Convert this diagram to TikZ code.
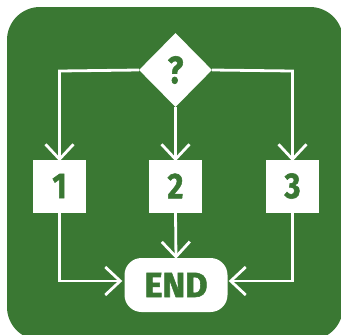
\documentclass[tikz,border=0pt]{standalone}
\usepackage{fontspec}
\setmainfont{Fira Sans}
\newfontfamily\heavyfont{Fira Sans}[BoldFeatures={FakeBold=1.6}]
\usetikzlibrary{arrows.meta,shapes.geometric}
\definecolor{bggreen}{HTML}{3A7833}
\tikzset{
  conn/.style={draw=white, line width=2.8pt, line join=miter,
    -{Straight Barb[length=15pt,width=28pt,line width=2.8pt]}},
  numbox/.style={fill=white, minimum width=53pt, minimum height=53pt, inner sep=0pt,
    text=bggreen, font=\heavyfont\bfseries\fontsize{36}{36}\selectfont},
}
\begin{document}
\begin{tikzpicture}[x=1pt,y=-1pt]
\useasboundingbox (0,0) rectangle (341,335);
\fill[bggreen, rounded corners=33pt] (7,7) rectangle (343,340);
\node[diamond, fill=white, minimum width=73pt, minimum height=74pt, inner sep=0pt,
  text=bggreen, font=\heavyfont\bfseries\fontsize{38}{38}\selectfont] (q) at (175.5,70) {\raisebox{-1pt}{\scalebox{0.85}[1]{?}}};
\node[numbox] (b1) at (59.5,186) {\scalebox{0.85}[1]{1}};
\node[numbox] (b2) at (175.5,186) {\scalebox{0.85}[1]{2}};
\node[numbox] (b3) at (292.5,186) {\scalebox{0.85}[1]{3}};
\node[fill=white, rounded corners=17pt, minimum width=103pt, minimum height=54pt, inner sep=0pt,
  text=bggreen, font=\heavyfont\bfseries\fontsize{35}{35}\selectfont] (e) at (176,285) {\scalebox{0.98}[1]{END}};
\coordinate (c1) at (59.5,71);
\coordinate (c3) at (292.5,71);
\coordinate (d1) at (59.5,281);
\coordinate (d3) at (292.5,281);
\draw[conn] (q.west) -- (c1) -- ([yshift=-2pt]b1.north);
\draw[conn] (q.east) -- (c3) -- ([yshift=-2pt]b3.north);
\draw[conn] (q.south) -- ([yshift=-2pt]b2.north);
\draw[conn] (b2.south) -- ([yshift=-1pt]e.north);
\draw[conn] (b1.south) -- (d1) -- ([xshift=-2pt]e.west |- d1);
\draw[conn] (b3.south) -- (d3) -- ([xshift=1pt]e.east |- d3);
\end{tikzpicture}
\end{document}
